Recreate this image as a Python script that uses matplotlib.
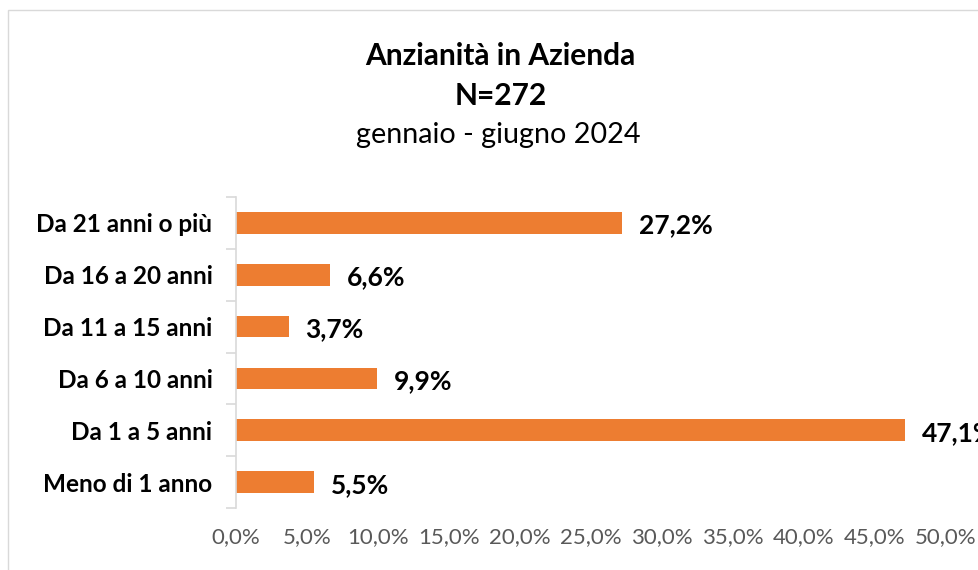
import numpy as np
import matplotlib.pyplot as plt
from matplotlib.patches import Rectangle

plt.rcParams['font.family'] = ['Lato', 'DejaVu Sans']

# data (bottom to top)
categories = ['Meno di 1 anno', 'Da 1 a 5 anni', 'Da 6 a 10 anni',
              'Da 11 a 15 anni', 'Da 16 a 20 anni', 'Da 21 anni o più']
values = [0.055, 0.471, 0.099, 0.037, 0.066, 0.272]
xticks = np.arange(0, 0.501, 0.05)

fig = plt.figure(figsize=(9.79, 5.70), dpi=100)

# chart border (Excel frame, cut off on right/bottom)
fig.patches.append(Rectangle((8 / 979, -0.1), 1.1, 1 - 10 / 570 + 0.1,
                             transform=fig.transFigure, fill=False,
                             edgecolor='#D9D9D9', linewidth=1.0))

ax = fig.add_axes([236 / 979, 1 - 508 / 570, 710 / 979, 311 / 570])

y = np.arange(len(categories))
ax.barh(y, values, height=0.42, color='#ED7D31')

for yi, v in zip(y, values):
    ax.text(v + 0.012, yi - 0.05, f'{v * 100:.1f}%'.replace('.', ','),
            va='center', ha='left', fontsize=19, fontweight='bold', color='black',
            clip_on=False)

ax.set_xlim(0, 0.5)
ax.set_ylim(-0.5, len(categories) - 0.5)
ax.set_yticks(y)
ax.set_yticklabels(categories, fontsize=17.5, fontweight='bold')
ax.set_yticks(np.arange(-0.5, len(categories), 1), minor=True)
ax.tick_params(axis='y', which='major', length=0, pad=17)
ax.tick_params(axis='y', which='minor', length=7, color='#D9D9D9', width=1.2)

ax.set_xticks(xticks)
ax.set_xticklabels([f'{t * 100:.1f}%'.replace('.', ',') for t in xticks],
                   fontsize=16, color='#595959')
ax.tick_params(axis='x', length=0, pad=14)

for s in ['top', 'right', 'bottom']:
    ax.spines[s].set_visible(False)
ax.spines['left'].set_color('#D9D9D9')
ax.spines['left'].set_linewidth(1.2)

fig.text(0.511, 1 - 56 / 570, 'Anzianità in Azienda', ha='center', va='center',
         fontsize=21.5, fontweight='bold')
fig.text(0.511, 1 - 96 / 570, 'N=272', ha='center', va='center',
         fontsize=21.5, fontweight='bold')
fig.text(0.509, 1 - 135 / 570, 'gennaio - giugno 2024', ha='center', va='center',
         fontsize=20.7)

fig.savefig('out.png', dpi=100)
